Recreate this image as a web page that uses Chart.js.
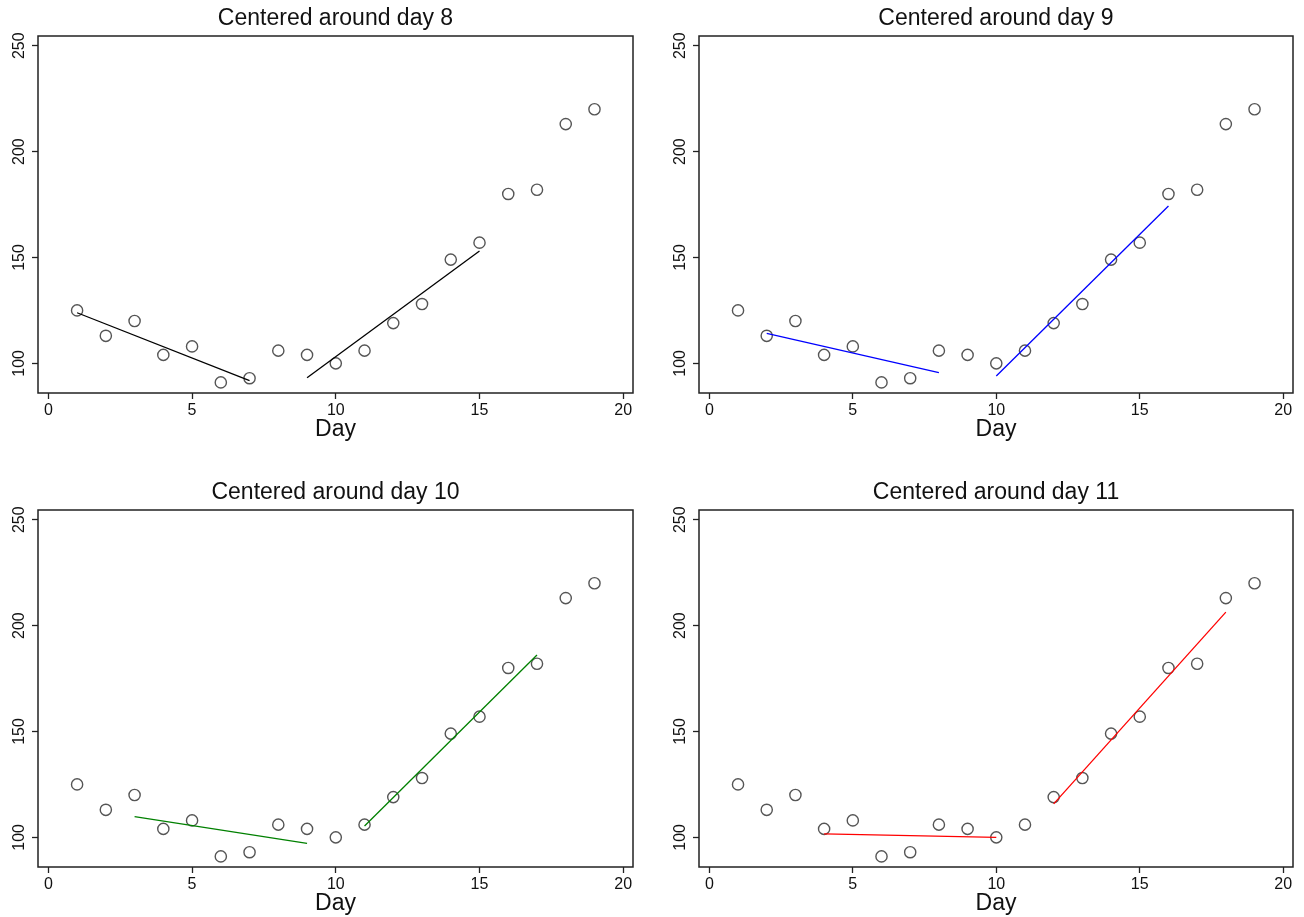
<!DOCTYPE html>
<html>
<head>
<meta charset="utf-8">
<script src="https://cdn.jsdelivr.net/npm/chart.js@4/dist/chart.umd.min.js"></script>
<style>
  body { margin: 0; background: #fff; width: 1304px; height: 917px; overflow: hidden; position: relative; }
  canvas { position: absolute; }
</style>
</head>
<body>
<canvas id="c0" width="652" height="458" style="left:0px;top:0px"></canvas>
<canvas id="c1" width="652" height="458" style="left:652px;top:0px"></canvas>
<canvas id="c2" width="652" height="458" style="left:0px;top:474px"></canvas>
<canvas id="c3" width="652" height="458" style="left:652px;top:474px"></canvas>
<script>
// data
var days = [1, 2, 3, 4, 5, 6, 7, 8, 9, 10, 11, 12, 13, 14, 15, 16, 17, 18, 19];
var counts = [125, 113, 120, 104, 108, 91, 93, 106, 104, 100, 106, 119, 128, 149, 157, 180, 182, 213, 220];
var xTicks = [0, 5, 10, 15, 20];
var yTicks = [100, 150, 200, 250];
var centerDays = [8, 9, 10, 11];

// fitted segments either side of the centre day
var leftFitX = [[1, 7], [2, 8], [3, 9], [4, 10]];
var leftFitY = [[123.9, 91.8], [114.2, 95.6], [109.8, 97.2], [101.6, 100.0]];
var rightFitX = [[9, 15], [10, 16], [11, 17], [12, 18]];
var rightFitY = [[93.2, 153.1], [94.0, 174.3], [105.4, 186.1], [115.8, 206.4]];

var fitColors = ['#000000', '#0000ff', '#008000', '#ff0000'];
var FONT = '"Liberation Sans", Arial, Helvetica, sans-serif';

function pairs(xs, ys) {
  var out = [];
  for (var i = 0; i < xs.length; i++) out.push({ x: xs[i], y: ys[i] });
  return out;
}

// box, rotated y labels and the "Day" label
var framePlugin = {
  id: 'frame',
  afterDraw: function (chart) {
    var ctx = chart.ctx, a = chart.chartArea, ys = chart.scales.y;
    ctx.save();
    ctx.strokeStyle = '#222';
    ctx.lineWidth = 1.5;
    ctx.strokeRect(a.left, a.top, a.right - a.left, a.bottom - a.top);

    ctx.fillStyle = '#111';
    ctx.font = '16px ' + FONT;
    ctx.textAlign = 'center';
    ctx.textBaseline = 'alphabetic';
    yTicks.forEach(function (v) {
      ctx.save();
      ctx.translate(a.left - 14, ys.getPixelForValue(v));
      ctx.rotate(-Math.PI / 2);
      ctx.fillText(String(v), 0, 0);
      ctx.restore();
    });

    ctx.font = '23px ' + FONT;
    ctx.textBaseline = 'middle';
    ctx.fillText('Day', (a.left + a.right) / 2, a.bottom + 37);
    ctx.restore();
  }
};

function makePanel(i) {
  var col = i % 2;
  var ctx = document.getElementById('c' + i).getContext('2d');
  return new Chart(ctx, {
    type: 'scatter',
    data: {
      datasets: [
        {
          data: pairs(leftFitX[i], leftFitY[i]),
          showLine: true,
          borderColor: fitColors[i],
          borderWidth: 1.3,
          pointRadius: 0
        },
        {
          data: pairs(rightFitX[i], rightFitY[i]),
          showLine: true,
          borderColor: fitColors[i],
          borderWidth: 1.3,
          pointRadius: 0
        },
        {
          data: pairs(days, counts),
          pointRadius: 5.6,
          pointBorderWidth: 1.4,
          pointBorderColor: '#555',
          pointBackgroundColor: 'rgba(0,0,0,0)'
        }
      ]
    },
    options: {
      responsive: false,
      animation: false,
      layout: { padding: { left: 0, right: col == 0 ? 19 : 11, top: 0, bottom: 0 } },
      plugins: {
        legend: { display: false },
        tooltip: { enabled: false },
        title: {
          display: true,
          fullSize: false,
          text: 'Centered around day ' + centerDays[i],
          color: '#111',
          font: { family: FONT, size: 23, weight: 'normal' },
          padding: { top: 5, bottom: 3.4 }
        }
      },
      scales: {
        x: {
          type: 'linear',
          min: -0.36,
          max: 20.34,
          afterBuildTicks: function (s) { s.ticks = xTicks.map(function (v) { return { value: v }; }); },
          afterFit: function (s) { s.height = 65; },
          border: { display: false },
          grid: { drawOnChartArea: false, drawTicks: true, tickLength: 6, tickColor: '#222', tickWidth: 1.3 },
          ticks: { color: '#111', padding: 2, maxRotation: 0, font: { family: FONT, size: 16 } }
        },
        y: {
          type: 'linear',
          min: 86,
          max: 254.6,
          afterBuildTicks: function (s) { s.ticks = yTicks.map(function (v) { return { value: v }; }); },
          afterFit: function (s) { s.width = col == 0 ? 38 : 47; },
          border: { display: false },
          grid: { drawOnChartArea: false, drawTicks: true, tickLength: 6, tickColor: '#222', tickWidth: 1.3 },
          ticks: { display: false }
        }
      }
    },
    plugins: [framePlugin]
  });
}

for (var p = 0; p < 4; p++) makePanel(p);
</script>
</body>
</html>
